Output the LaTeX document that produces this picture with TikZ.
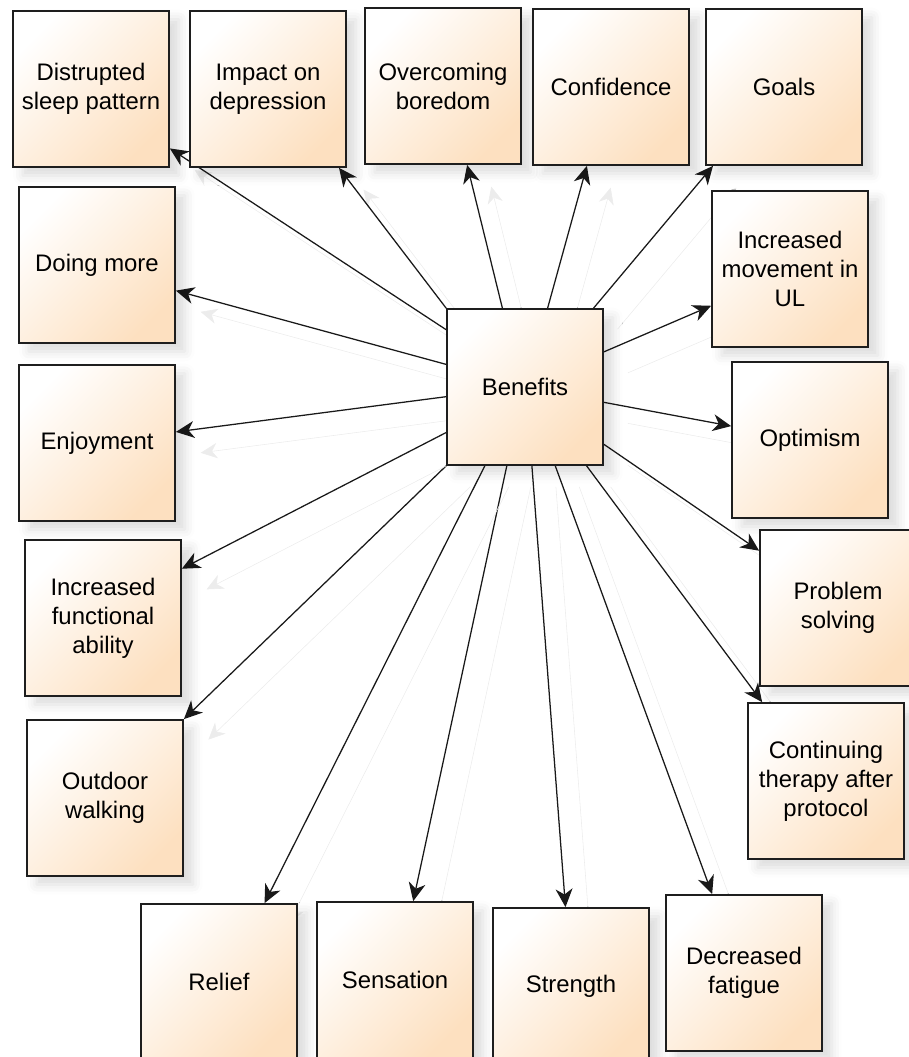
\documentclass[tikz,border=0pt]{standalone}
\usepackage{fontspec}
\setmainfont{Liberation Sans}
\usepackage{tikz}
\usetikzlibrary{positioning, arrows.meta, backgrounds, shadows.blur}
\definecolor{boxFill}{HTML}{fde0c0}
\definecolor{boxLine}{HTML}{1e1e1e}
\definecolor{edgeShade}{HTML}{ececec}
\begin{document}
\begin{tikzpicture}[x=0.025cm, y=-0.025cm, box/.style={draw=boxLine, line width=1.2pt, minimum width=3.9cm, minimum height=3.9cm, align=center, inner sep=2pt, top color=white, bottom color=boxFill, shading angle=45, font=\fontsize{17}{20.6}\selectfont, blur shadow={shadow xshift=7pt, shadow yshift=-6pt, shadow blur radius=7pt, shadow opacity=14}},lnk/.style={-{Stealth[length=13pt, width=12pt, inset=4pt]}, line width=0.9pt, draw=black!90, preaction={draw=edgeShade, transform canvas={shift={(24,21)}}}}]
\useasboundingbox (0,0) rectangle (908,1057);
% top row
\node[box] (dsp) at (91,89) {Distrupted\\sleep pattern};
\node[box] (imp) at (268,89) {Impact on\\depression};
\node[box] (ovb) at (443,86) {Overcoming\\boredom};
\node[box] (conf) at (611,87) {Confidence};
\node[box] (goals) at (784,87) {Goals};
% left column
\node[box] (dom) at (97,265) {Doing more};
\node[box] (enj) at (97,443) {Enjoyment};
\node[box] (ifa) at (103,618) {Increased\\functional\\ability};
\node[box] (out) at (105,798) {Outdoor\\walking};
% centre
\node[box] (ben) at (525,387) {Benefits};
% right column
\node[box] (mov) at (790,269) {Increased\\movement in\\UL};
\node[box] (opt) at (810,440) {Optimism};
\node[box] (prob) at (838,608) {Problem\\solving};
\node[box] (cont) at (826,781) {Continuing\\therapy after\\protocol};
% bottom row
\node[box] (rel) at (219,982) {Relief};
\node[box] (sens) at (395,980) {Sensation};
\node[box] (str) at (571,986) {Strength};
\node[box] (fat) at (744,973) {Decreased\\fatigue};
% links
\begin{scope}[on background layer]
\draw[lnk] (ben.144) -- (dsp.-37);
\draw[lnk] (ben.north west) -- (imp.-48);
\draw[lnk] (ben.106) -- (ovb.287);
\draw[lnk] (ben.74) -- (conf.253);
\draw[lnk] (ben.49) -- (goals.228);
\draw[lnk] (ben.24) -- (mov.205);
\draw[lnk] (ben.349) -- (opt.170);
\draw[lnk] (ben.324) -- (prob.144);
\draw[lnk] (ben.308) -- (cont.129);
\draw[lnk] (ben.291) -- (fat.112);
\draw[lnk] (ben.275) -- (str.94);
\draw[lnk] (ben.257) -- (sens.77);
\draw[lnk] (ben.243) -- (rel.60);
\draw[lnk] (ben.south west) -- (out.north east);
\draw[lnk] (ben.210) -- (ifa.32);
\draw[lnk] (ben.187) -- (enj.8);
\draw[lnk] (ben.164) -- (dom.342);
\end{scope}
\end{tikzpicture}
\end{document}
